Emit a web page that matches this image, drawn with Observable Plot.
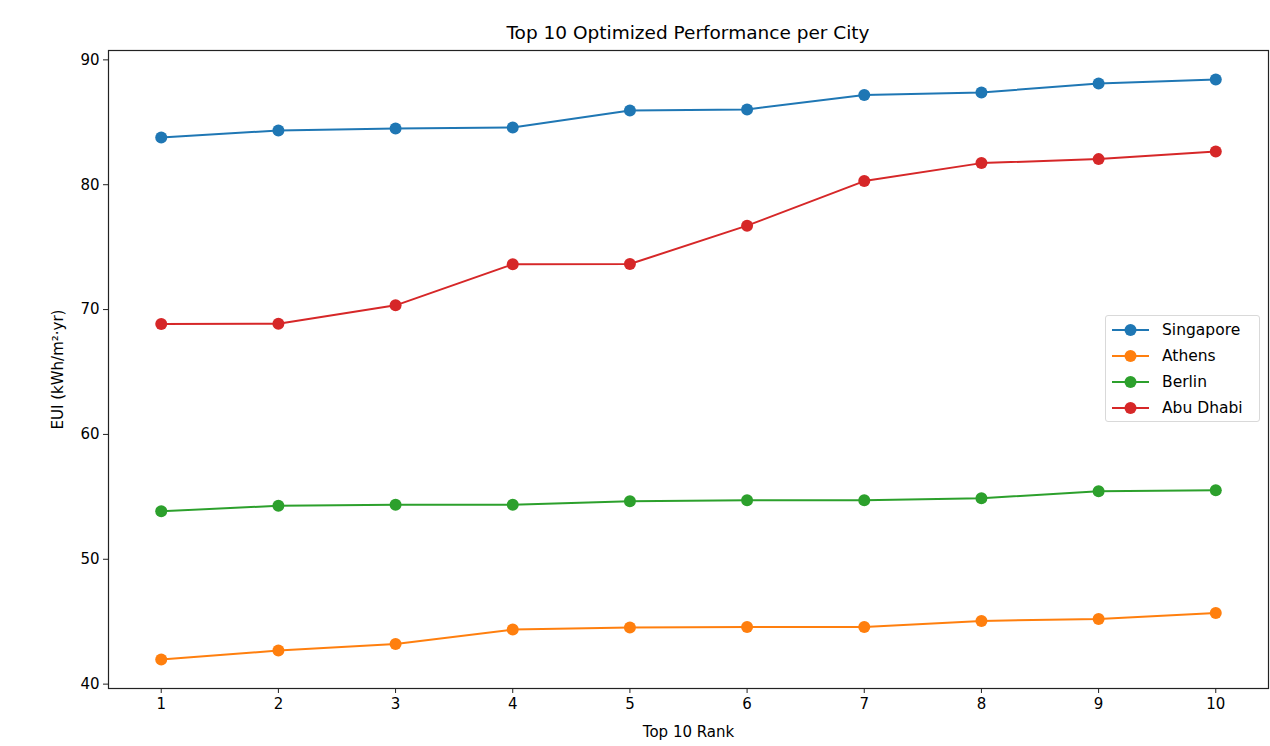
<!DOCTYPE html>
<html>
<head>
<meta charset="utf-8">
<script src="https://cdn.jsdelivr.net/npm/d3@7"></script>
<script src="https://cdn.jsdelivr.net/npm/@observablehq/plot@0.6"></script>
<style>
  body { margin: 0; background: #fff; font-family: "DejaVu Sans", sans-serif; }
  #wrap { position: relative; width: 1270px; height: 746px; }
  #title { position: absolute; left: 108px; width: 1160px; top: 22px; text-align: center; font-size: 18.5px; color: #000; }
  #chart { position: absolute; left: 0; top: 45px; }
  #legend { position: absolute; left: 1105px; top: 315px; width: 155px; height: 107px; border: 1px solid #d9d9d9; border-radius: 3px; background: rgba(255,255,255,0.85); box-sizing: border-box; }
  .item { position: absolute; left: 6px; height: 20px; display: flex; align-items: center; font-size: 15.5px; color: #000; }
  .item svg { margin-right: 13px; }
</style>
</head>
<body>
<div id="wrap">
  <div id="title"></div>
  <div id="chart"></div>
  <div id="legend"></div>
</div>
<script>
const titleText = "Top 10 Optimized Performance per City";
const xLabel = "Top 10 Rank";
const yLabel = "EUI (kWh/m²·yr)";
const cities = ["Singapore", "Athens", "Berlin", "Abu Dhabi"];
const colors = ["#1f77b4", "#ff7f0e", "#2ca02c", "#d62728"];
const ranks = [1, 2, 3, 4, 5, 6, 7, 8, 9, 10];
const singapore = [83.78, 84.34, 84.50, 84.58, 85.95, 86.03, 87.19, 87.39, 88.11, 88.43];
const athens    = [41.97, 42.69, 43.21, 44.37, 44.54, 44.58, 44.58, 45.06, 45.22, 45.70];
const berlin    = [53.84, 54.29, 54.37, 54.37, 54.65, 54.73, 54.73, 54.89, 55.45, 55.53];
const abuDhabi  = [68.85, 68.87, 70.34, 73.63, 73.65, 76.72, 80.29, 81.73, 82.05, 82.66];
const yTicks = [40, 50, 60, 70, 80, 90];

const seriesValues = [singapore, athens, berlin, abuDhabi];
const data = [];
cities.forEach((c, i) => ranks.forEach((r, j) => data.push({city: c, rank: r, eui: seriesValues[i][j]})));

document.getElementById("title").textContent = titleText;

const plot = Plot.plot({
  width: 1270,
  height: 701,
  marginLeft: 108,
  marginRight: 2,
  marginTop: 5,
  marginBottom: 58,
  style: {fontFamily: "DejaVu Sans, sans-serif", color: "#000", background: "#fff"},
  x: {domain: [0.55, 10.45]},
  y: {domain: [39.65, 90.75]},
  color: {domain: cities, range: colors},
  marks: [
    Plot.axisX({ticks: ranks, tickFormat: d => String(d), tickSize: 5, tickPadding: 5, fontSize: 15, stroke: "#222",
      label: xLabel, labelAnchor: "center", labelOffset: 48, labelArrow: "none"}),
    Plot.axisY({ticks: yTicks, tickSize: 5, tickPadding: 4, fontSize: 15, stroke: "#222",
      label: yLabel, labelAnchor: "center", labelOffset: 56, labelArrow: "none"}),
    Plot.line(data, {x: "rank", y: "eui", z: "city", stroke: "city", strokeWidth: 2}),
    Plot.dot(data, {x: "rank", y: "eui", fill: "city", r: 6}),
    Plot.frame({stroke: "#222", strokeWidth: 1.2})
  ]
});
document.getElementById("chart").appendChild(plot);

const legend = document.getElementById("legend");
cities.forEach((c, i) => {
  const item = document.createElement("div");
  item.className = "item";
  item.style.top = (4 + i * 26) + "px";
  item.innerHTML = `<svg width="37" height="14"><line x1="0" y1="7" x2="37" y2="7" stroke="${colors[i]}" stroke-width="2"/><circle cx="18.5" cy="7" r="6" fill="${colors[i]}"/></svg><span>${c}</span>`;
  legend.appendChild(item);
});
</script>
</body>
</html>
